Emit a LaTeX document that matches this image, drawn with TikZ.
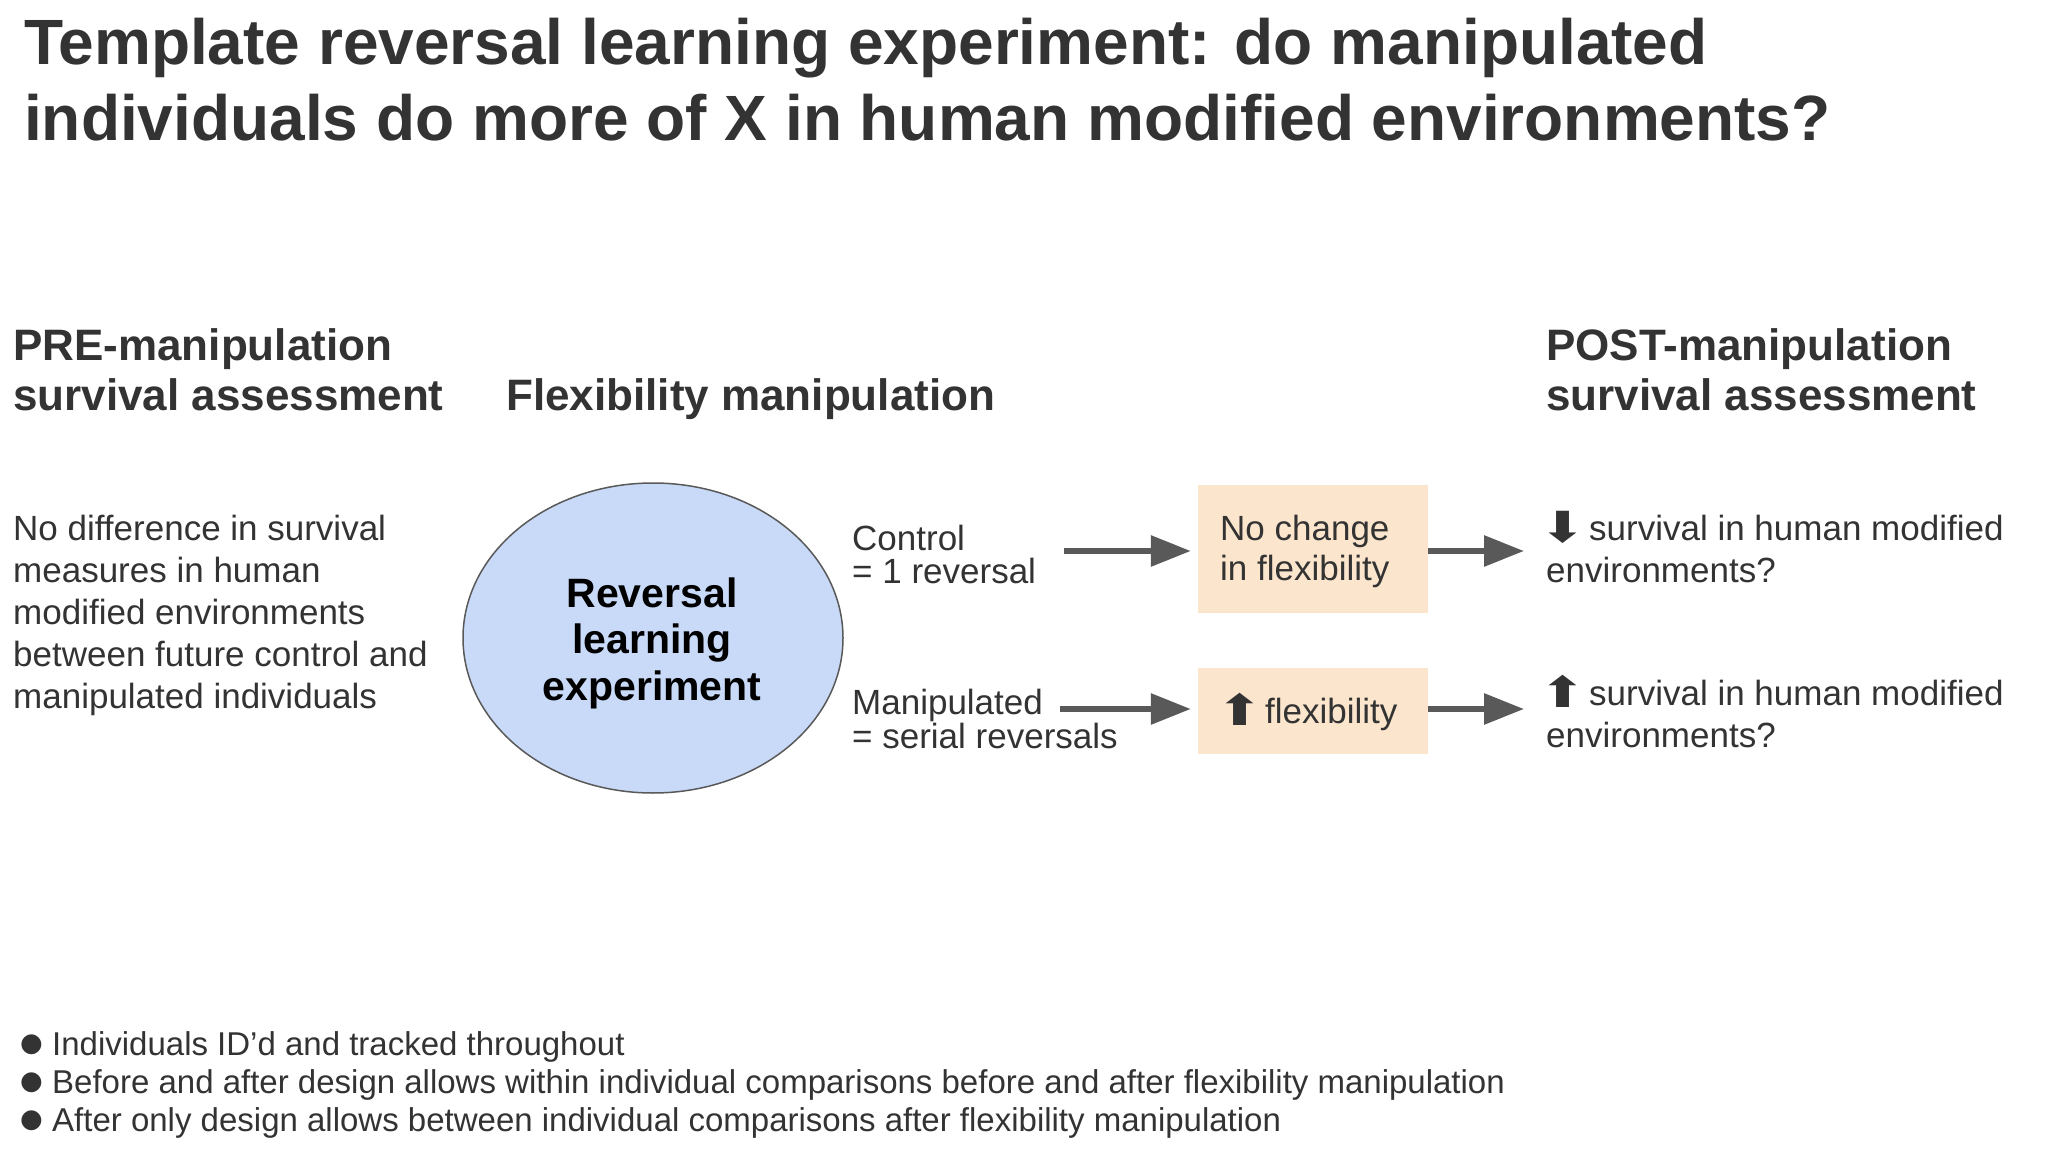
\documentclass[tikz,border=0pt]{standalone}
\usepackage{fontspec}
\usepackage{graphicx}
\setmainfont{Liberation Sans}
\newfontfamily\symfont{DejaVu Sans}
\usetikzlibrary{shapes.geometric,arrows.meta}
\definecolor{tc}{HTML}{333333}
\definecolor{ac}{HTML}{595959}
\definecolor{ellfill}{HTML}{C9DAF8}
\definecolor{boxfill}{HTML}{FCE5CD}
\newcommand{\bigarrow}[1]{\scalebox{1.7}[1.3]{#1}}
\begin{document}
\begin{tikzpicture}[x=1pt,y=-1pt,
  ttl/.style={anchor=base west, inner sep=0, text=tc, font=\fontsize{64}{74}\selectfont\bfseries},
  hd/.style={anchor=base west, inner sep=0, text=tc, font=\fontsize{44}{50}\selectfont\bfseries},
  body/.style={anchor=base west, inner sep=0, text=tc, font=\fontsize{35}{42}\selectfont},
  bul/.style={anchor=base west, inner sep=0, text=tc, font=\fontsize{33}{38}\selectfont},
  dot/.style={anchor=base west, inner sep=0, text=tc, text height=16pt, text depth=0pt, font=\fontsize{26}{30}\symfont},
  sym/.style={anchor=base west, inner sep=0, text=tc, font=\fontsize{33}{38}\symfont},
  elltxt/.style={anchor=base, inner sep=0, text=black, font=\fontsize{41}{47}\selectfont\bfseries},
  ellbox/.style={ellipse, draw=ac, line width=1.5pt, fill=ellfill, inner sep=0, minimum width=380pt, minimum height=310pt},
  outbox/.style={rectangle, fill=boxfill, inner sep=0, minimum width=230pt},
  arr/.style={draw=ac, line width=6pt, -{Triangle[length=40pt,width=30pt]}}
]
\useasboundingbox (0,0) rectangle (2046,1158);
\fill[white] (0,0) rectangle (2046,1158);

% title
\node[ttl] (t1) at (24,65) {Template reversal learning experiment: do manipulated};
\node[ttl] (t2) at (24,141) {individuals do more of X in human modified environments?};

% headings
\node[hd] (pre1) at (13,360) {PRE-manipulation};
\node[hd] (pre2) at (13,410) {survival assessment};
\node[hd] (flex) at (506,410) {Flexibility manipulation};
\node[hd] (post1) at (1546,360) {POST-manipulation};
\node[hd] (post2) at (1546,410) {survival assessment};

% left body
\node[body] (l1) at (13,540) {No difference in survival};
\node[body] (l2) at (13,582) {measures in human};
\node[body] (l3) at (13,624) {modified environments};
\node[body] (l4) at (13,666) {between future control and};
\node[body] (l5) at (13,708) {manipulated individuals};

% ellipse
\node[ellbox] (ell) at (653,638) {};
\node[elltxt] (e1) at (652,607) {Reversal};
\node[elltxt] (e2) at (652,653) {learning};
\node[elltxt] (e3) at (652,700) {experiment};

% groups
\node[body] (c1) at (852,550) {Control};
\node[body] (c2) at (852,583) {= 1 reversal};
\node[body] (m1) at (852,714) {Manipulated};
\node[body] (m2) at (852,748) {= serial reversals};

% boxes
\node[outbox, minimum height=128pt] (b1) at (1313,549) {};
\node[body] (b1a) at (1220,540) {No change};
\node[body] (b1b) at (1220,580) {in flexibility};
\node[outbox, minimum height=86pt] (b2) at (1313,711) {};
\node[sym] (b2s) at (1216,725) {\bigarrow{⬆}};
\node[body] (b2a) at (1265,723) {flexibility};

% outcomes
\node[sym] (o1s) at (1539,542) {\bigarrow{⬇}};
\node[body] (o1a) at (1589,540) {survival in human modified};
\node[body] (o1b) at (1546,582) {environments?};
\node[sym] (o2s) at (1539,707) {\bigarrow{⬆}};
\node[body] (o2a) at (1589,705) {survival in human modified};
\node[body] (o2b) at (1546,747) {environments?};

% arrows
\coordinate (s1) at (1064,551);
\coordinate (s2) at (1060,709);
\coordinate (r1) at (1524,551);
\coordinate (r2) at (1524,709);
\draw[arr, shorten >=7pt] (s1) -- (s1 -| b1.west);
\draw[arr, shorten >=7pt] (s2) -- (s2 -| b2.west);
\draw[arr] (b1.east |- r1) -- (r1);
\draw[arr] (b2.east |- r2) -- (r2);

% bullets
\node[dot] (d1) at (20,1051) {●};
\node[bul] (n1) at (52,1055) {Individuals ID’d and tracked throughout};
\node[dot] (d2) at (20,1089) {●};
\node[bul] (n2) at (52,1093) {Before and after design allows within individual comparisons before and after flexibility manipulation};
\node[dot] (d3) at (20,1127) {●};
\node[bul] (n3) at (52,1131) {After only design allows between individual comparisons after flexibility manipulation};
\end{tikzpicture}
\end{document}
